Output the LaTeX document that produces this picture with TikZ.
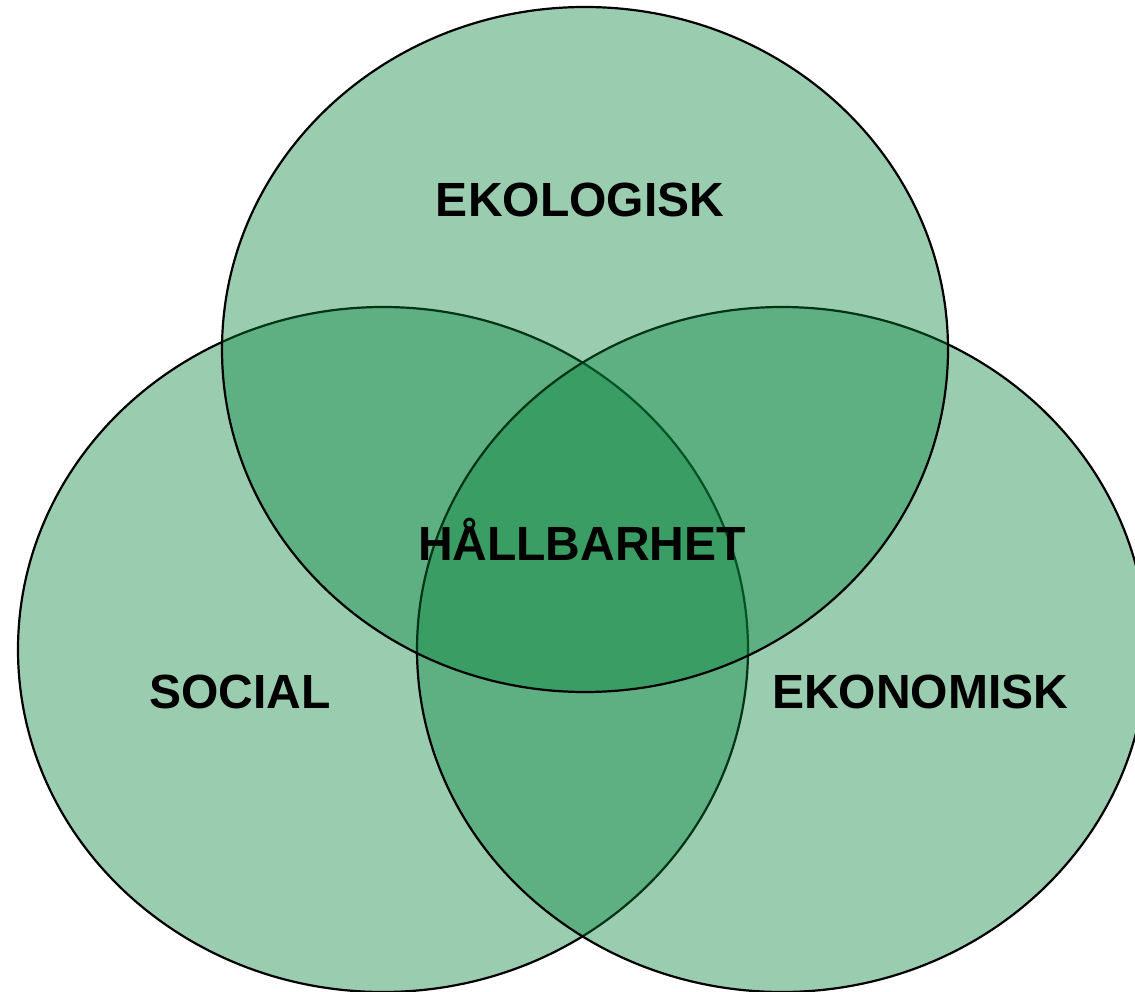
\documentclass[tikz,border=0pt]{standalone}
\usepackage{fontspec}
\setmainfont{Liberation Sans}
\definecolor{vennfill}{RGB}{3,130,58}
\tikzset{
  venn/.style={fill=vennfill, fill opacity=0.4, draw=black, line width=2.2pt},
  lbl/.style={anchor=base, inner sep=0pt, font=\fontsize{48}{56}\selectfont\bfseries, text=black}
}
\begin{document}
\begin{tikzpicture}[x=1pt,y=-1pt]
\useasboundingbox (0,0) rectangle (1135,992);
\begin{scope}
\clip (0,0) rectangle (1135,992);
\path[venn] (383,649.5) ellipse [x radius=365pt, y radius=342.5pt];
\path[venn] (782,649.5) ellipse [x radius=365pt, y radius=342.5pt];
\path[venn] (585,349.5) ellipse [x radius=363pt, y radius=342.5pt];
\end{scope}
\node[lbl] (eko) at (580,217) {EKOLOGISK};
\node[lbl] (hall) at (582,560) {HÅLLBARHET};
\node[lbl] (soc) at (240,708) {SOCIAL};
\node[lbl] (ekon) at (920,708) {EKONOMISK};
\end{tikzpicture}
\end{document}
